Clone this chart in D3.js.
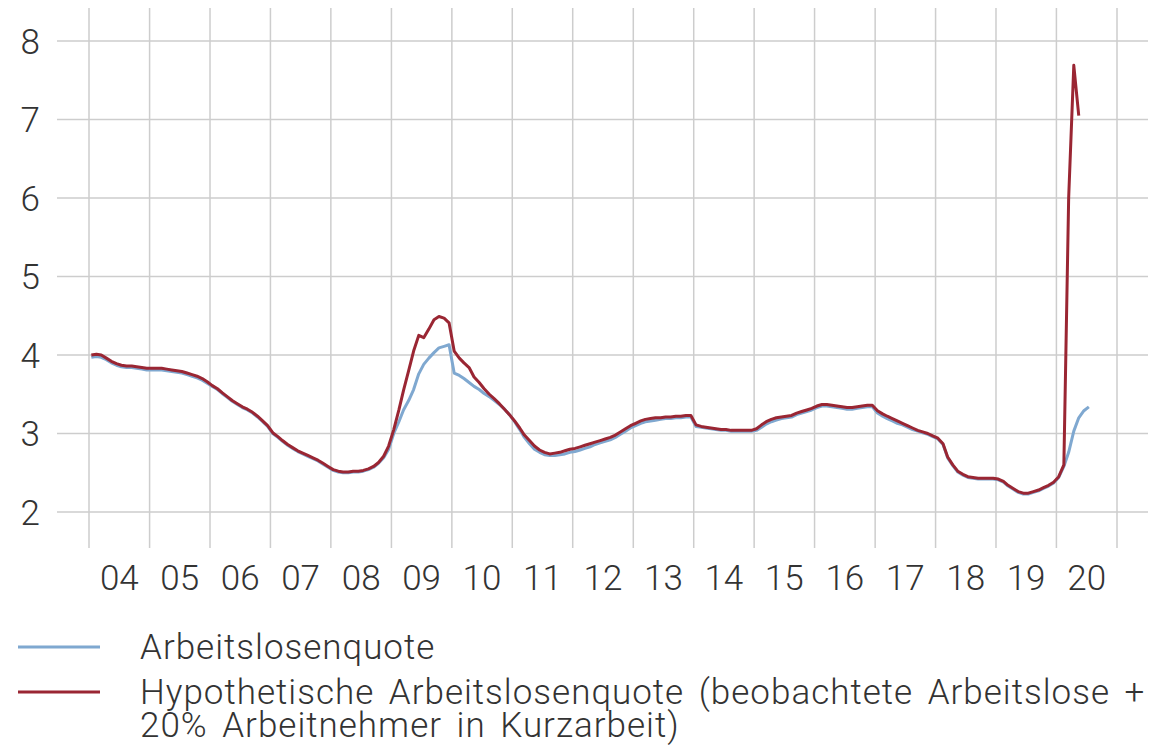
<!DOCTYPE html>
<html>
<head>
  <meta charset="utf-8">
  <title>Arbeitslosenquote</title>
  <script src="https://d3js.org/d3.v7.min.js"></script>
  <style>
    body {
      margin: 0;
      background: #fff;
      font-family: Roboto, "Liberation Sans", Arial, sans-serif;
      font-weight: 300;
    }
    .grid line {
      stroke: #cdcdcd;
      stroke-width: 1.5px;
    }
    .tick-label {
      font-size: 35px;
      fill: #333;
    }
    .legend-text {
      font-size: 35px;
      fill: #333;
      letter-spacing: 1px;
      word-spacing: 5px;
    }
  </style>
</head>
<body>
  <div id="chart"></div>

  <script>
    // years on the x axis (labels shown as two digits)
    const years = d3.range(2004, 2021);
    const yTicks = [2, 3, 4, 5, 6, 7, 8];

    // monthly values, Jan 2004 - Jul 2020
    const arbeitslosenquote = [
      3.97, 3.98, 3.97, 3.94, 3.90, 3.87, 3.85, 3.84, 3.84, 3.83, 3.82, 3.81,
      3.81, 3.81, 3.81, 3.80, 3.79, 3.78, 3.77, 3.75, 3.73, 3.71, 3.68, 3.64,
      3.60, 3.56, 3.51, 3.46, 3.41, 3.37, 3.33, 3.30, 3.26, 3.21, 3.15, 3.09,
      3.00, 2.95, 2.90, 2.85, 2.81, 2.77, 2.74, 2.71, 2.68, 2.65, 2.61, 2.57,
      2.53, 2.51, 2.50, 2.50, 2.51, 2.51, 2.52, 2.54, 2.57, 2.62, 2.69, 2.80,
      3.00, 3.15, 3.30, 3.42, 3.56, 3.76, 3.88, 3.96, 4.03, 4.09, 4.11, 4.13,
      3.77, 3.74, 3.70, 3.65, 3.60, 3.56, 3.51, 3.47, 3.42, 3.37, 3.31, 3.24,
      3.15, 3.05, 2.95, 2.87, 2.80, 2.76, 2.73, 2.72, 2.72, 2.73, 2.74, 2.76,
      2.77, 2.79, 2.81, 2.83, 2.86, 2.88, 2.90, 2.92, 2.95, 2.99, 3.03, 3.07,
      3.10, 3.13, 3.15, 3.16, 3.17, 3.18, 3.19, 3.19, 3.20, 3.20, 3.21, 3.21,
      3.09, 3.08, 3.07, 3.06, 3.05, 3.04, 3.04, 3.03, 3.03, 3.03, 3.03, 3.03,
      3.04, 3.08, 3.12, 3.15, 3.17, 3.19, 3.20, 3.21, 3.24, 3.26, 3.28, 3.30,
      3.33, 3.35, 3.35, 3.34, 3.33, 3.32, 3.31, 3.31, 3.32, 3.33, 3.34, 3.34,
      3.26, 3.22, 3.19, 3.16, 3.13, 3.11, 3.08, 3.05, 3.03, 3.01, 2.99, 2.96,
      2.93, 2.86, 2.69, 2.59, 2.51, 2.47, 2.44, 2.43, 2.42, 2.42, 2.42, 2.42,
      2.41, 2.38, 2.33, 2.29, 2.25, 2.23, 2.23, 2.25, 2.27, 2.30, 2.33, 2.37,
      2.44, 2.58, 2.76, 3.03, 3.20, 3.29, 3.34
    ];

    // monthly values, Jan 2004 - May 2020
    const hypothetisch = [
      4.00, 4.01, 4.00, 3.96, 3.92, 3.89, 3.87, 3.86, 3.86, 3.85, 3.84, 3.83,
      3.83, 3.83, 3.83, 3.82, 3.81, 3.80, 3.79, 3.77, 3.75, 3.73, 3.70, 3.66,
      3.61, 3.57, 3.52, 3.47, 3.42, 3.38, 3.34, 3.31, 3.27, 3.22, 3.16, 3.10,
      3.01, 2.96, 2.91, 2.86, 2.82, 2.78, 2.75, 2.72, 2.69, 2.66, 2.62, 2.58,
      2.54, 2.52, 2.51, 2.51, 2.52, 2.52, 2.53, 2.55, 2.58, 2.63, 2.71, 2.84,
      3.05, 3.30, 3.55, 3.80, 4.05, 4.25, 4.22, 4.33, 4.45, 4.49, 4.47, 4.41,
      4.05, 3.96, 3.90, 3.84, 3.72, 3.65, 3.57, 3.50, 3.44, 3.38, 3.31, 3.24,
      3.16, 3.07, 2.98, 2.91, 2.84, 2.79, 2.76, 2.74, 2.75, 2.76, 2.78, 2.80,
      2.81, 2.83, 2.85, 2.87, 2.89, 2.91, 2.93, 2.95, 2.98, 3.02, 3.06, 3.10,
      3.13, 3.16, 3.18, 3.19, 3.20, 3.20, 3.21, 3.21, 3.22, 3.22, 3.23, 3.23,
      3.11, 3.09, 3.08, 3.07, 3.06, 3.05, 3.05, 3.04, 3.04, 3.04, 3.04, 3.04,
      3.06, 3.11, 3.15, 3.18, 3.20, 3.21, 3.22, 3.23, 3.26, 3.28, 3.30, 3.32,
      3.35, 3.37, 3.37, 3.36, 3.35, 3.34, 3.33, 3.33, 3.34, 3.35, 3.36, 3.36,
      3.29, 3.25, 3.22, 3.19, 3.16, 3.13, 3.10, 3.07, 3.04, 3.02, 3.00, 2.97,
      2.94, 2.87, 2.70, 2.60, 2.52, 2.48, 2.45, 2.44, 2.43, 2.43, 2.43, 2.43,
      2.42, 2.39, 2.34, 2.30, 2.26, 2.24, 2.24, 2.26, 2.28, 2.31, 2.34, 2.38,
      2.45, 2.60, 6.00, 7.69, 7.05
    ];

    const legendLabels = [
      ["Arbeitslosenquote"],
      ["Hypothetische Arbeitslosenquote (beobachtete Arbeitslose +", "20% Arbeitnehmer in Kurzarbeit)"]
    ];
    const colors = ["#7fa8d0", "#9a2633"];

    const width = 1159, height = 755;

    const svg = d3.select("#chart")
      .append("svg")
      .attr("width", width)
      .attr("height", height);

    // scales
    const x = d3.scaleTime()
      .domain([new Date(2004, 0, 1), new Date(2021, 0, 1)])
      .range([89, 1117]);
    const y = d3.scaleLinear().domain([2, 8]).range([512, 41]);

    // data points sit in the middle of each month
    const toSeries = vals => vals.map((v, i) => ({ date: new Date(2004, i, 15), value: v }));
    const series = [toSeries(arbeitslosenquote), toSeries(hypothetisch)];

    // horizontal grid
    svg.append("g").attr("class", "grid")
      .selectAll("line")
      .data(yTicks)
      .enter()
      .append("line")
      .attr("x1", 57)
      .attr("x2", 1148)
      .attr("y1", d => y(d))
      .attr("y2", d => y(d));

    // vertical grid at year boundaries
    const yearStarts = d3.range(2004, 2022).map(yr => new Date(yr, 0, 1));
    svg.append("g").attr("class", "grid")
      .selectAll("line")
      .data(yearStarts)
      .enter()
      .append("line")
      .attr("x1", d => x(d))
      .attr("x2", d => x(d))
      .attr("y1", 8)
      .attr("y2", 548);

    // y labels
    svg.append("g")
      .selectAll("text")
      .data(yTicks)
      .enter()
      .append("text")
      .attr("class", "tick-label")
      .attr("x", 40)
      .attr("y", d => y(d))
      .attr("dy", "0.36em")
      .attr("text-anchor", "end")
      .text(d => d);

    // x labels, centred in each year
    svg.append("g")
      .selectAll("text")
      .data(years)
      .enter()
      .append("text")
      .attr("class", "tick-label")
      .attr("x", d => x(new Date(d, 6, 2)))
      .attr("y", 590)
      .attr("text-anchor", "middle")
      .text(d => String(d).slice(2));

    // lines
    const line = d3.line()
      .x(d => x(d.date))
      .y(d => y(d.value));

    svg.selectAll(".series")
      .data(series)
      .enter()
      .append("path")
      .attr("class", "series")
      .attr("fill", "none")
      .attr("stroke", (d, i) => colors[i])
      .attr("stroke-width", 3)
      .attr("stroke-linejoin", "round")
      .attr("d", line);

    // legend
    const legendY = [647, 692];
    const legend = svg.append("g");
    legendLabels.forEach((lines, i) => {
      legend.append("line")
        .attr("x1", 18)
        .attr("x2", 100)
        .attr("y1", legendY[i])
        .attr("y2", legendY[i])
        .attr("stroke", colors[i])
        .attr("stroke-width", 3);
      const t = legend.append("text")
        .attr("class", "legend-text")
        .attr("x", 140)
        .attr("y", legendY[i] + 12);
      lines.forEach((s, j) => {
        t.append("tspan")
          .attr("x", 140)
          .attr("dy", j === 0 ? 0 : 33)
          .text(s);
      });
    });
  </script>
</body>
</html>
